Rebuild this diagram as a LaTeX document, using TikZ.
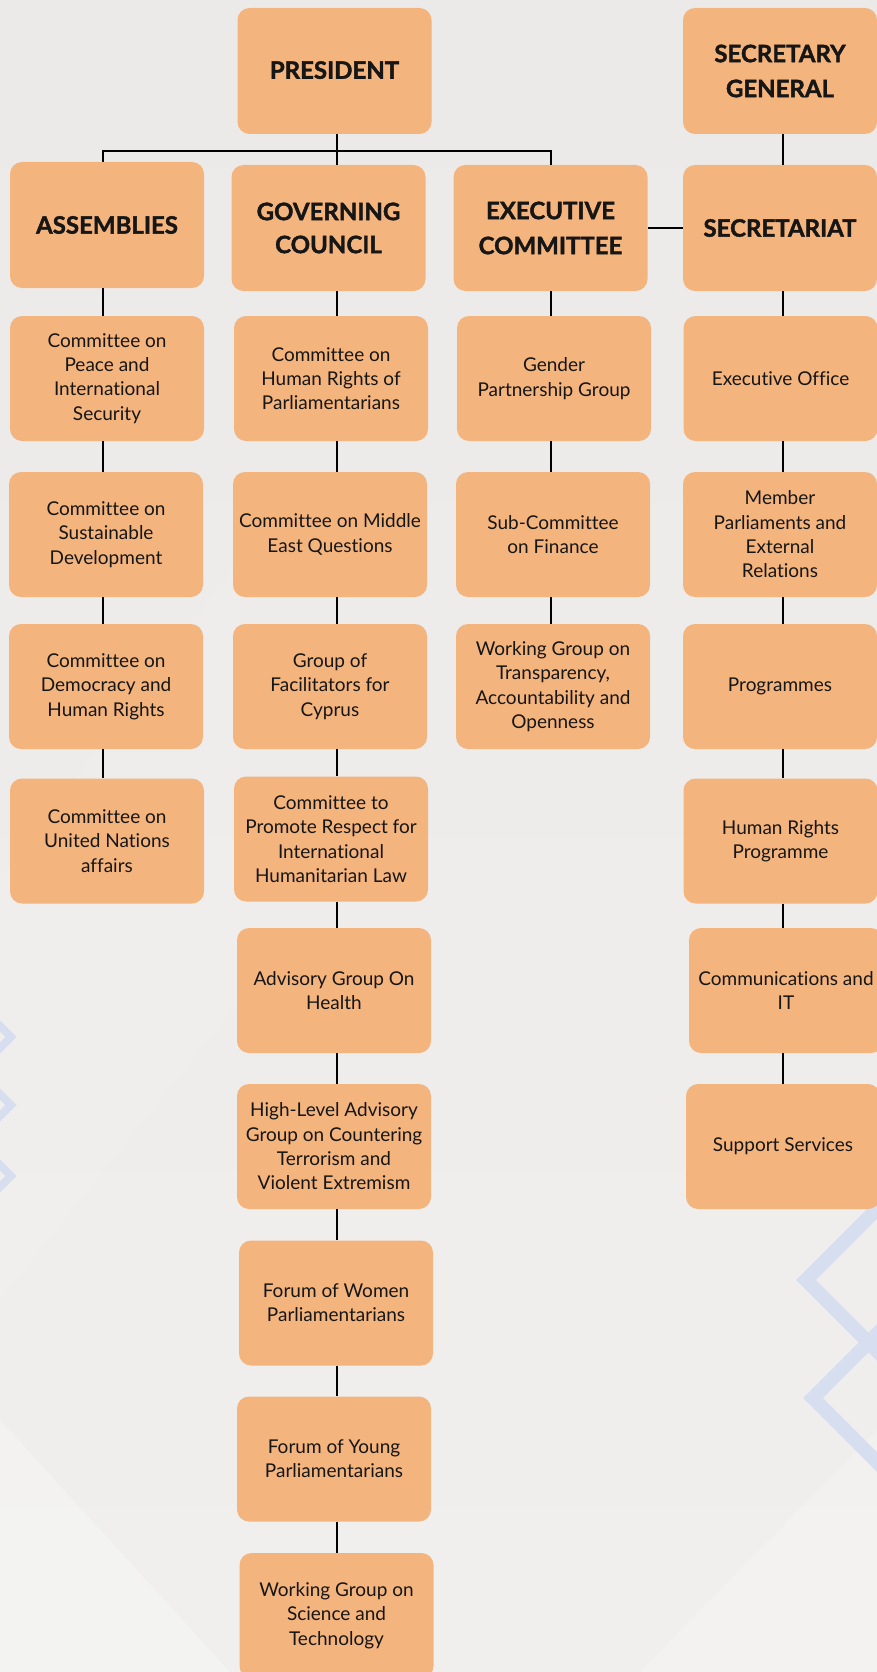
\documentclass[tikz,border=0pt]{standalone}
\usepackage{fontspec}
\setmainfont{Lato}[Ligatures=NoCommon, BoldFeatures={FakeBold=1.6}]
\definecolor{boxc}{RGB}{244,180,126}
\definecolor{bgtop}{RGB}{235,234,232}
\definecolor{bgbot}{RGB}{240,239,237}
\definecolor{deco}{RGB}{214,222,240}
\definecolor{txt}{RGB}{22,22,22}
\begin{document}
\begin{tikzpicture}[x=1pt,y=-1pt,
  box/.style={rectangle, rounded corners=12pt, fill=boxc, minimum width=194pt, minimum height=125pt, inner sep=0pt, align=center, text=txt, font=\fontsize{19}{24.3}\selectfont},
  head/.style={box, minimum height=126pt, font=\fontsize{24}{33}\selectfont\bfseries},
  link/.style={draw=black, line width=2pt},
  decoline/.style={draw=deco, line width=14pt, line join=miter},
  decosmall/.style={draw=deco, line width=8pt, line join=miter}]
\useasboundingbox (0,0) rectangle (877,1672);
\shade[top color=bgtop, bottom color=bgbot] (0,0) rectangle (877,1672);
\fill[white, opacity=0.25] (0,1420) -- (230,1672) -- (0,1672) -- cycle;
\fill[white, opacity=0.2] (640,1672) -- (877,1430) -- (877,1672) -- cycle;
\fill[white, opacity=0.1] (0,880) -- (240,560) -- (240,1000) -- (0,1300) -- cycle;
% decorations
\begin{scope}
\clip (0,0) rectangle (877,1672);
\draw[decosmall] (11,1037) -- (-30,996) -- (-71,1037) -- (-30,1078) -- cycle;
\draw[decosmall] (11,1105) -- (-30,1064) -- (-71,1105) -- (-30,1146) -- cycle;
\draw[decosmall] (11,1176) -- (-30,1135) -- (-71,1176) -- (-30,1217) -- cycle;
\draw[decoline] (806,1280) -- (901,1185) -- (996,1280) -- (901,1375) -- cycle;
\draw[decoline] (813,1398) -- (908,1303) -- (1003,1398) -- (908,1493) -- cycle;
\end{scope}
% top level
\node[head] (P) at (334.5,71) {\raisebox{2pt}{PRESIDENT}};
\node[head] (SG) at (780,71) {\raisebox{2pt}{SECRETARY}\\GENERAL};
\node[head] (A) at (107,225) {ASSEMBLIES};
\node[head] (GC) at (328.5,228) {GOVERNING\\COUNCIL};
\node[head] (EC) at (550.5,228) {\raisebox{2pt}{EXECUTIVE}\\COMMITTEE};
\node[head] (SEC) at (780,228) {SECRETARIAT};
% column 1
\node[box] (a1) at (107,378.5) {Committee on\\Peace and\\International\\Security};
\node[box] (a2) at (106,534.5) {Committee on\\Sustainable\\Development};
\node[box] (a3) at (106,686.5) {Committee on\\Democracy and\\Human Rights};
\node[box] (a4) at (107,841) {Committee on\\United Nations\\affairs};
% column 2
\node[box] (g1) at (331,378.5) {Committee on\\Human Rights of\\Parliamentarians};
\node[box] (g2) at (330,534.5) {Committee on Middle\\East Questions};
\node[box] (g3) at (330,686.5) {Group of\\Facilitators for\\Cyprus};
\node[box] (g4) at (331,839) {Committee to\\Promote Respect for\\International\\Humanitarian Law};
\node[box] (g5) at (334,990.5) {Advisory Group On\\Health};
\node[box] (g6) at (334,1146.5) {High-Level Advisory\\Group on Countering\\Terrorism and\\Violent Extremism};
\node[box] (g7) at (336,1303) {Forum of Women\\Parliamentarians};
\node[box] (g8) at (334,1459) {Forum of Young\\Parliamentarians};
\node[box] (g9) at (336.5,1615.5) {Working Group on\\Science and\\Technology};
% column 3
\node[box] (e1) at (554,378.5) {Gender\\Partnership Group};
\node[box] (e2) at (553,534.5) {Sub-Committee\\on Finance};
\node[box] (e3) at (553,686.5) {Working Group on\\Transparency,\\Accountability and\\Openness};
% column 4
\node[box] (s1) at (780.5,378.5) {Executive Office};
\node[box] (s2) at (780,534.5) {Member\\Parliaments and\\External\\Relations};
\node[box] (s3) at (780,686.5) {Programmes};
\node[box] (s4) at (780.5,841) {Human Rights\\Programme};
\node[box] (s5) at (786,990.5) {Communications and\\IT};
\node[box] (s6) at (783,1146.5) {Support Services};
% connector columns
\coordinate (x1) at (103,0);
\coordinate (x2) at (337,0);
\coordinate (x3) at (551,0);
\coordinate (x4) at (783,0);
\coordinate (bar) at (0,151);
\draw[link] (x2 |- P.south) -- (x2 |- GC.north);
\draw[link] (x1 |- A.north) -- (x1 |- bar) -- (x3 |- bar) -- (x3 |- EC.north);
\draw[link] (x4 |- SG.south) -- (x4 |- SEC.north);
\draw[link] (SEC.west) -- (EC.east |- SEC.west);
\foreach \u/\v in {A/a1,a1/a2,a2/a3,a3/a4}
  \draw[link] (x1 |- \u.south) -- (x1 |- \v.north);
\foreach \u/\v in {GC/g1,g1/g2,g2/g3,g3/g4,g4/g5,g5/g6,g6/g7,g7/g8,g8/g9}
  \draw[link] (x2 |- \u.south) -- (x2 |- \v.north);
\foreach \u/\v in {EC/e1,e1/e2,e2/e3}
  \draw[link] (x3 |- \u.south) -- (x3 |- \v.north);
\foreach \u/\v in {SEC/s1,s1/s2,s2/s3,s3/s4,s4/s5,s5/s6}
  \draw[link] (x4 |- \u.south) -- (x4 |- \v.north);
\end{tikzpicture}
\end{document}
